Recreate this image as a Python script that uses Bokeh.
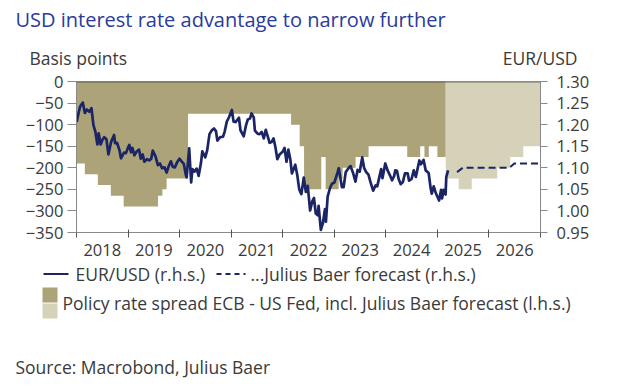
import pandas as pd
from bokeh.plotting import figure
from bokeh.layouts import column
from bokeh.models import Range1d, LinearAxis, FixedTicker, Span, PrintfTickFormatter
from bokeh.core.properties import value
from bokeh.embed import file_html
from bokeh.resources import INLINE

# ---------------- data ----------------
fx_dates = [
    "2018-01-02", "2018-01-15", "2018-01-25", "2018-02-01", "2018-02-15", "2018-03-01", "2018-03-15",
    "2018-04-02", "2018-04-17", "2018-05-01", "2018-05-15", "2018-05-29", "2018-06-07", "2018-06-21",
    "2018-07-02", "2018-07-16", "2018-08-01", "2018-08-15", "2018-09-03", "2018-09-24", "2018-10-01",
    "2018-10-15", "2018-11-01", "2018-11-12", "2018-12-03", "2018-12-17", "2018-12-31",
    "2019-01-10", "2019-01-22", "2019-02-01", "2019-02-15", "2019-03-01", "2019-03-20", "2019-04-01",
    "2019-04-15", "2019-04-26", "2019-05-15", "2019-05-31", "2019-06-14", "2019-06-25", "2019-07-15",
    "2019-07-31", "2019-08-15", "2019-08-30", "2019-09-16", "2019-10-01", "2019-10-15", "2019-10-31",
    "2019-11-14", "2019-11-29", "2019-12-13", "2019-12-31",
    "2020-01-15", "2020-01-31", "2020-02-14", "2020-02-20", "2020-03-09", "2020-03-23", "2020-04-01",
    "2020-04-15", "2020-05-01", "2020-05-15", "2020-06-01", "2020-06-10", "2020-07-01", "2020-07-15",
    "2020-07-31", "2020-08-17", "2020-09-01", "2020-09-15", "2020-09-25", "2020-10-15", "2020-11-04",
    "2020-11-16", "2020-12-01", "2020-12-15",
    "2021-01-06", "2021-01-18", "2021-02-01", "2021-02-25", "2021-03-08", "2021-03-31", "2021-04-15",
    "2021-04-29", "2021-05-14", "2021-05-25", "2021-06-10", "2021-06-18", "2021-07-07", "2021-07-21",
    "2021-08-05", "2021-08-20", "2021-09-03", "2021-09-17", "2021-09-30", "2021-10-15", "2021-10-28",
    "2021-11-10", "2021-11-24", "2021-12-10", "2021-12-31",
    "2022-01-14", "2022-01-28", "2022-02-10", "2022-02-24", "2022-03-07", "2022-03-31", "2022-04-14",
    "2022-04-28", "2022-05-13", "2022-05-30", "2022-06-14", "2022-06-27", "2022-07-14", "2022-07-29",
    "2022-08-10", "2022-08-23", "2022-09-06", "2022-09-12", "2022-09-28", "2022-10-12", "2022-10-27",
    "2022-11-03", "2022-11-15", "2022-12-01", "2022-12-15",
    "2023-01-02", "2023-01-26", "2023-02-02", "2023-02-24", "2023-03-08", "2023-03-23", "2023-04-14",
    "2023-04-26", "2023-05-15", "2023-05-31", "2023-06-15", "2023-06-30", "2023-07-18", "2023-07-31",
    "2023-08-15", "2023-08-31", "2023-09-15", "2023-10-03", "2023-10-20", "2023-11-01", "2023-11-29",
    "2023-12-08", "2023-12-28",
    "2024-01-12", "2024-01-31", "2024-02-14", "2024-02-29", "2024-03-08", "2024-03-20", "2024-04-01",
    "2024-04-16", "2024-05-01", "2024-05-16", "2024-06-04", "2024-06-14", "2024-07-02", "2024-07-17",
    "2024-08-01", "2024-08-26", "2024-09-06", "2024-09-25", "2024-10-10", "2024-10-31", "2024-11-14",
    "2024-11-22", "2024-12-06", "2024-12-20",
    "2025-01-13", "2025-01-27", "2025-02-03", "2025-02-14", "2025-02-28", "2025-03-05", "2025-03-18",
]
fx_values = [
    1.206, 1.226, 1.240, 1.245, 1.251, 1.227, 1.235,
    1.230, 1.238, 1.199, 1.183, 1.154, 1.180, 1.154,
    1.164, 1.171, 1.166, 1.131, 1.160, 1.176, 1.157,
    1.158, 1.141, 1.122, 1.135, 1.134, 1.146,
    1.153, 1.136, 1.146, 1.129, 1.137, 1.142, 1.121,
    1.131, 1.114, 1.120, 1.117, 1.121, 1.140, 1.126,
    1.106, 1.110, 1.099, 1.101, 1.089, 1.103, 1.115,
    1.102, 1.101, 1.112, 1.121,
    1.115, 1.109, 1.084, 1.078, 1.145, 1.066, 1.097,
    1.091, 1.098, 1.081, 1.112, 1.138, 1.124, 1.141,
    1.178, 1.187, 1.191, 1.185, 1.163, 1.171, 1.172,
    1.184, 1.207, 1.216,
    1.234, 1.207, 1.206, 1.216, 1.187, 1.173, 1.197,
    1.212, 1.214, 1.226, 1.217, 1.186, 1.179, 1.178,
    1.183, 1.168, 1.188, 1.173, 1.158, 1.160, 1.168,
    1.148, 1.120, 1.131, 1.137,
    1.146, 1.114, 1.142, 1.119, 1.087, 1.107, 1.083,
    1.050, 1.039, 1.077, 1.044, 1.058, 1.001, 1.022,
    1.030, 0.994, 0.990, 1.012, 0.956, 0.971, 1.004,
    0.975, 1.033, 1.052, 1.063,
    1.066, 1.091, 1.099, 1.055, 1.055, 1.090, 1.100,
    1.104, 1.087, 1.068, 1.095, 1.091, 1.124, 1.100,
    1.090, 1.084, 1.066, 1.047, 1.059, 1.057, 1.097,
    1.076, 1.110,
    1.095, 1.082, 1.071, 1.081, 1.094, 1.093, 1.074,
    1.062, 1.067, 1.087, 1.087, 1.070, 1.074, 1.094,
    1.079, 1.117, 1.108, 1.118, 1.094, 1.088, 1.053,
    1.040, 1.057, 1.042,
    1.024, 1.049, 1.029, 1.049, 1.038, 1.079, 1.094,
]

# Julius Baer EUR/USD forecast
fc_dates = ["2025-05-20", "2025-06-30", "2026-05-25", "2026-06-30", "2026-12-31"]
fc_values = [1.09, 1.10, 1.10, 1.11, 1.11]

# Policy rate spread ECB - US Fed (bp): step start dates and levels
spread_dates = [
    "2018-01-01", "2018-03-01", "2018-06-01", "2018-09-01", "2018-12-01",
    "2019-08-01", "2019-09-01", "2019-10-01", "2020-03-01",
    "2022-03-01", "2022-05-01", "2022-06-01", "2022-10-01", "2022-11-01",
    "2023-02-01", "2023-03-01", "2023-06-01", "2023-09-01",
    "2024-06-01", "2024-09-01", "2024-10-01", "2024-11-01", "2025-01-01",
]
spread_values = [
    -190, -215, -240, -265, -290,
    -265, -250, -225, -75,
    -100, -150, -250, -175, -250,
    -225, -200, -175, -150,
    -175, -150, -175, -150, -175,
]
spread_end = "2025-03-01"

# Julius Baer forecast of the spread (bp)
spread_fc_dates = ["2025-03-01", "2025-06-01", "2025-09-01", "2026-03-01", "2026-06-01", "2026-09-01"]
spread_fc_values = [-225, -250, -225, -200, -175, -150]
spread_fc_end = "2027-01-01"

years = [2018, 2019, 2020, 2021, 2022, 2023, 2024, 2025, 2026, 2027]
bp_ticks = [-350, -300, -250, -200, -150, -100, -50, 0]
fx_ticks = [0.95, 1.00, 1.05, 1.10, 1.15, 1.20, 1.25, 1.30]

title_text = "USD interest rate advantage to narrow further"
left_title = "Basis points"
right_title = "EUR/USD"
legend_fx = "EUR/USD (r.h.s.)"
legend_fc = "...Julius Baer forecast (r.h.s.)"
legend_spread = "Policy rate spread ECB - US Fed, incl. Julius Baer forecast (l.h.s.)"
source_text = "Source: Macrobond, Julius Baer"

# ---------------- helpers ----------------
def dec_year(s):
    d = pd.Timestamp(s)
    n = 366 if d.is_leap_year else 365
    return d.year + (d.dayofyear - 1) / n

def step_patch(starts, values, end):
    xs, ys = [], []
    edges = [dec_year(s) for s in starts] + [dec_year(end)]
    for i, v in enumerate(values):
        xs += [edges[i], edges[i + 1]]
        ys += [v, v]
    xs += [edges[-1], edges[0]]
    ys += [0, 0]
    return xs, ys

DARK = "#aca379"
LIGHT = "#d6d2b9"
NAVY = "#1b2566"
TXT = "#3a3a3a"
AX = "#8a8a8a"
FONT = "Open Sans"
W = 604
TICK_FS = "16.5px"
TEXT_FS = "17.5px"

def blank_fig(h):
    f = figure(width=W, height=h, output_backend="svg", toolbar_location=None,
               x_range=Range1d(0, W), y_range=Range1d(h, 0),
               x_axis_type=None, y_axis_type=None, min_border=0)
    f.frame_align = False
    f.outline_line_color = None
    f.xgrid.visible = False
    f.ygrid.visible = False
    return f

def put_text(f, x, y, txt, size=TEXT_FS, color=TXT, align="left"):
    f.text(x=[x], y=[y], text=[txt], text_font=value(FONT), text_font_size=size,
           text_color=color, text_align=align, text_baseline="middle")

# ---------------- top: title + axis titles (page y 0..69) ----------------
TOP_H = 69
top = blank_fig(TOP_H)
put_text(top, 15, 19, title_text, size="20px", color="#2a3b9c")
put_text(top, 29, 57.5, left_title)
put_text(top, 577, 57.5, right_title, align="right")

# ---------------- main chart (page y 69..262) ----------------
MAIN_TOP = 81 - TOP_H
p = figure(width=W, height=MAIN_TOP + 151 + 30, output_backend="svg", toolbar_location=None,
           x_range=Range1d(years[0], years[-1]), y_range=Range1d(bp_ticks[0], bp_ticks[-1]),
           min_border_left=76, min_border_right=W - 540, min_border_top=MAIN_TOP, min_border_bottom=30)
p.frame_align = False
p.outline_line_color = None
p.xgrid.visible = False
p.ygrid.visible = False
p.extra_y_ranges = {"fx": Range1d(fx_ticks[0], fx_ticks[-1])}

hx, hy = step_patch(spread_dates, spread_values, spread_end)
p.patch(hx, hy, fill_color=DARK, line_color=None)
fx_, fy_ = step_patch(spread_fc_dates, spread_fc_values, spread_fc_end)
p.patch(fx_, fy_, fill_color=LIGHT, line_color=None)

p.line([dec_year(d) for d in fx_dates], fx_values, y_range_name="fx",
       line_color=NAVY, line_width=2.7, line_join="round")
p.line([dec_year(d) for d in fc_dates], fc_values, y_range_name="fx",
       line_color=NAVY, line_width=2, line_dash="7 4")

p.add_layout(Span(location=0, dimension="width", line_color="#1a1a1a", line_width=1.3))

xa = p.xaxis[0]
xa.ticker = FixedTicker(ticks=[y + 0.5 for y in years[:-1]], minor_ticks=years)
xa.major_label_overrides = {y + 0.5: str(y) for y in years[:-1]}
xa.major_tick_line_color = None
xa.major_tick_in = 0
xa.major_tick_out = 0
xa.minor_tick_in = 3
xa.minor_tick_out = 5
xa.minor_tick_line_color = "#555555"
xa.axis_line_color = AX
xa.major_label_standoff = 6
xa.major_label_text_font = FONT
xa.major_label_text_font_size = TICK_FS
xa.major_label_text_color = TXT

ya = p.yaxis[0]
ya.ticker = FixedTicker(ticks=bp_ticks)
ya.minor_tick_line_color = None
ya.major_tick_in = 0
ya.major_tick_out = 9
ya.major_tick_line_color = AX
ya.axis_line_color = AX
ya.major_label_standoff = 4
ya.major_label_text_font = FONT
ya.major_label_text_font_size = TICK_FS
ya.major_label_text_color = TXT

ra = LinearAxis(y_range_name="fx", ticker=FixedTicker(ticks=fx_ticks),
                formatter=PrintfTickFormatter(format="%.2f"))
ra.minor_tick_line_color = None
ra.major_tick_in = 0
ra.major_tick_out = 7
ra.major_tick_line_color = AX
ra.axis_line_color = AX
ra.major_label_standoff = 9
ra.major_label_text_font = FONT
ra.major_label_text_font_size = TICK_FS
ra.major_label_text_color = TXT
p.add_layout(ra, "right")

# ---------------- bottom: legend + source (page y 262..382) ----------------
B0 = 262
bot = blank_fig(382 - B0)
bot.line([43, 68], [273.5 - B0, 273.5 - B0], line_color=NAVY, line_width=1.8)
put_text(bot, 75, 273.5 - B0, legend_fx)
bot.line([216, 245], [273.5 - B0, 273.5 - B0], line_color=NAVY, line_width=1.8, line_dash="5 4")
put_text(bot, 250, 273.5 - B0, legend_fc)
bot.quad(left=[42], right=[57], top=[287 - B0], bottom=[302 - B0], fill_color=DARK, line_color=None)
bot.quad(left=[42], right=[57], top=[303 - B0], bottom=[318 - B0], fill_color=LIGHT, line_color=None)
put_text(bot, 62, 302 - B0, legend_spread)
put_text(bot, 15, 366 - B0, source_text)

open("out.html", "w").write(file_html(column(top, p, bot, spacing=0), INLINE))
